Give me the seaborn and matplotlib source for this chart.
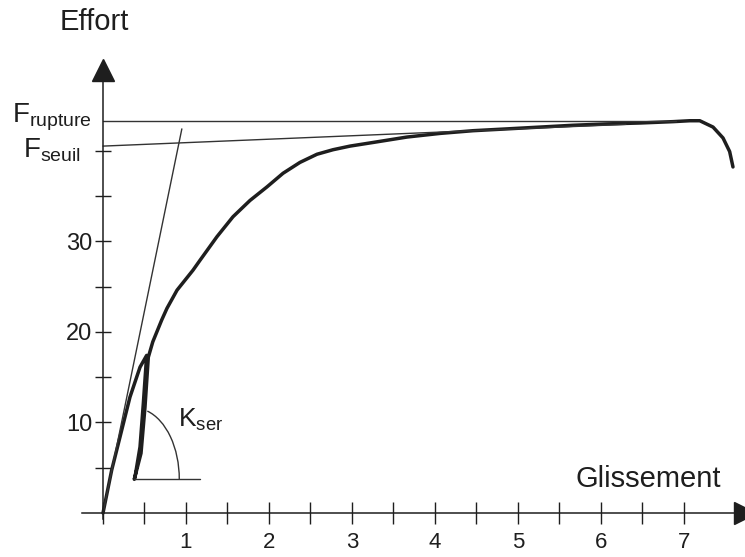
import numpy as np
import matplotlib
matplotlib.use("Agg")
import matplotlib.pyplot as plt
from matplotlib.patches import Arc
import seaborn as sns

glissement = [0, 0.105, 0.205, 0.325, 0.446, 0.526, 0.486, 0.446, 0.386, 0.377,
              0.458, 0.506, 0.546, 0.60, 0.707, 0.771, 0.892, 1.084, 1.169, 1.373,
              1.566, 1.771, 1.976, 2.169, 2.373, 2.578, 2.771, 2.976, 3.253, 3.663,
              4.06, 4.458, 4.867, 5.265, 5.663, 6.07, 6.47, 6.87, 7.07, 7.19,
              7.35, 7.47, 7.55, 7.59]
effort = [0, 4.75, 8.4, 12.8, 16.1, 17.4, 12.1, 7.3, 4.0, 3.72,
          6.6, 11.7, 17.2, 18.9, 21.3, 22.6, 24.6, 26.8, 27.9, 30.5,
          32.7, 34.5, 36.0, 37.5, 38.7, 39.6, 40.1, 40.5, 40.9, 41.5,
          41.9, 42.2, 42.4, 42.6, 42.8, 42.95, 43.05, 43.2, 43.3, 43.3,
          42.6, 41.4, 39.9, 38.2]

# droites de construction
f_rupture = 43.3
rupture_x = [0, 6.9]
seuil_x = [0, 6.3]
seuil_y = [40.5, 42.9]
tangente_x = [0, 0.95]
tangente_y = [0, 42.4]
kser_x = [0.377, 1.17]
kser_y = 3.75

x_ticks = [1, 2, 3, 4, 5, 6, 7]
x_minor = [0, 0.5, 1.5, 2.5, 3.5, 4.5, 5.5, 6.5]
y_ticks = [10, 20, 30]
y_minor = [5, 15, 25, 35, 40]

sns.set_style("white")
plt.rcParams['font.family'] = ['Liberation Sans', 'DejaVu Sans']
plt.rcParams['mathtext.fontset'] = 'custom'
plt.rcParams['mathtext.rm'] = 'Liberation Sans'

ink = '#1e1e1e'
fig = plt.figure(figsize=(7.45, 5.57), dpi=100)
ax = fig.add_axes([82 / 745, 38 / 557, 663 / 745, 449 / 557])

# courbe
sns.lineplot(x=glissement, y=effort, sort=False, estimator=None, ax=ax,
             color=ink, linewidth=2.5, solid_joinstyle='round', solid_capstyle='round')
# droites fines
ax.plot(rupture_x, [f_rupture, f_rupture], color='#333333', lw=1.0)
ax.plot(seuil_x, seuil_y, color='#333333', lw=1.0)
ax.plot(tangente_x, tangente_y, color='#333333', lw=1.0)
ax.plot(kser_x, [kser_y, kser_y], color='#333333', lw=1.0)
ax.add_patch(Arc((kser_x[0], kser_y), 2 * 0.542, 2 * 7.84, theta1=0, theta2=88.8,
                 color='#333333', lw=1.0))

ax.set_xlim(-0.253, 7.735)
ax.set_ylim(-0.66, 48.9)

# axes avec fleches
for side in ['top', 'right']:
    ax.spines[side].set_visible(False)
ax.spines['left'].set_position(('data', 0))
ax.spines['bottom'].set_position(('data', 0))
for side in ['left', 'bottom']:
    ax.spines[side].set_color(ink)
    ax.spines[side].set_linewidth(1.1)
ax.plot(1, 0, '>', color=ink, markersize=16, transform=ax.get_yaxis_transform(), clip_on=False)
ax.plot(0, 1, '^', color=ink, markersize=16, transform=ax.get_xaxis_transform(), clip_on=False)

ax.set_xticks(x_ticks, [str(v) for v in x_ticks])
ax.set_xticks(x_minor, minor=True)
ax.set_yticks(y_ticks, [str(v) for v in y_ticks])
ax.set_yticks(y_minor, minor=True)
ax.tick_params(axis='x', which='both', bottom=True, direction='inout', length=16, width=1.0,
               color=ink, labelsize=16, pad=6, labelcolor=ink)
ax.tick_params(axis='y', which='both', left=True, direction='inout', length=12, width=1.0,
               color=ink, labelsize=17, pad=1.5, labelcolor=ink)
ax.grid(False)

# textes
ax.text(-0.52, 53.3, 'Effort', fontsize=21, color=ink, ha='left', va='baseline', clip_on=False)
ax.text(5.69, 2.87, 'Glissement', fontsize=21, color=ink, ha='left', va='baseline')
ax.text(-1.096, 43.05, r'$\mathregular{F_{rupture}}$', fontsize=20, color=ink,
        ha='left', va='baseline', clip_on=False)
ax.text(-0.96, 39.2, r'$\mathregular{F_{seuil}}$', fontsize=20, color=ink,
        ha='left', va='baseline', clip_on=False)
ax.text(0.904, 9.5, r'$\mathregular{K_{ser}}$', fontsize=19, color=ink,
        ha='left', va='baseline')

fig.savefig('out.png', dpi=100)
